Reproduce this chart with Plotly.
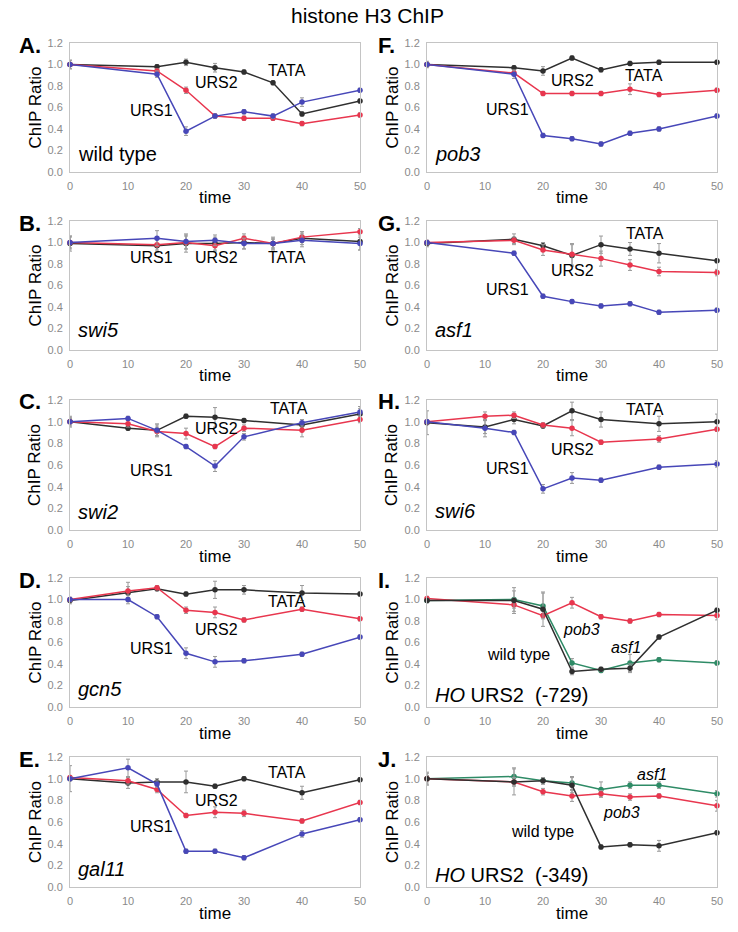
import plotly.graph_objects as go

W, H = 738, 932

# ---------------- data ----------------
T8a = [0, 15, 20, 25, 30, 35, 40, 50]
T8b = [0, 10, 15, 20, 25, 30, 40, 50]

# A wild type
A_urs1 = [1.00, 0.91, 0.38, 0.52, 0.56, 0.52, 0.65, 0.76]
A_urs2 = [1.00, 0.94, 0.76, 0.52, 0.50, 0.50, 0.45, 0.53]
A_tata = [1.00, 0.98, 1.02, 0.97, 0.93, 0.83, 0.54, 0.66]
A_e1 = [0.04, 0.03, 0.04, 0.02, 0.02, 0.02, 0.04, 0.02]
A_e2 = [0.02, 0.02, 0.03, 0.02, 0.02, 0.02, 0.02, 0.02]
A_e3 = [0.04, 0.02, 0.03, 0.04, 0.02, 0.02, 0.02, 0.02]
# B swi5
B_urs1 = [1.00, 1.04, 1.01, 1.02, 0.99, 0.99, 1.02, 0.99]
B_urs2 = [1.00, 0.98, 1.00, 0.97, 1.04, 0.99, 1.05, 1.10]
B_tata = [0.99, 0.97, 0.99, 0.99, 1.00, 0.99, 1.04, 1.01]
B_e1 = [0.06, 0.07, 0.07, 0.05, 0.05, 0.05, 0.06, 0.06]
B_e2 = [0.05, 0.05, 0.06, 0.05, 0.04, 0.04, 0.05, 0.03]
B_e3 = [0.07, 0.06, 0.08, 0.06, 0.06, 0.06, 0.06, 0.08]
# C swi2
C_urs1 = [1.00, 1.03, 0.92, 0.77, 0.59, 0.86, 0.99, 1.09]
C_urs2 = [1.00, 0.98, 0.91, 0.89, 0.77, 0.94, 0.92, 1.02]
C_tata = [1.00, 0.94, 0.92, 1.05, 1.04, 1.01, 0.97, 1.07]
C_e1 = [0.04, 0.02, 0.05, 0.02, 0.05, 0.03, 0.03, 0.03]
C_e2 = [0.03, 0.03, 0.04, 0.05, 0.02, 0.03, 0.06, 0.03]
C_e3 = [0.05, 0.02, 0.06, 0.02, 0.09, 0.02, 0.03, 0.07]
# D gcn5
D_urs1 = [1.00, 1.00, 0.84, 0.50, 0.42, 0.43, 0.49, 0.65]
D_urs2 = [1.00, 1.08, 1.11, 0.90, 0.88, 0.81, 0.91, 0.82]
D_tata = [0.99, 1.06, 1.10, 1.05, 1.09, 1.09, 1.06, 1.05]
D_e1 = [0.02, 0.02, 0.02, 0.05, 0.05, 0.02, 0.02, 0.02]
D_e2 = [0.02, 0.04, 0.02, 0.03, 0.05, 0.02, 0.02, 0.02]
D_e3 = [0.03, 0.10, 0.02, 0.02, 0.08, 0.04, 0.07, 0.02]
# E gal11
E_urs1 = [1.00, 1.10, 0.95, 0.33, 0.33, 0.27, 0.49, 0.62]
E_urs2 = [1.01, 0.98, 0.90, 0.66, 0.69, 0.68, 0.61, 0.78]
E_tata = [1.00, 0.96, 0.97, 0.97, 0.93, 1.00, 0.87, 0.99]
E_e1 = [0.02, 0.08, 0.03, 0.02, 0.02, 0.02, 0.03, 0.02]
E_e2 = [0.02, 0.03, 0.03, 0.02, 0.05, 0.03, 0.02, 0.02]
E_e3 = [0.12, 0.05, 0.03, 0.10, 0.02, 0.02, 0.06, 0.02]
# F pob3
F_urs1 = [1.00, 0.91, 0.34, 0.31, 0.26, 0.36, 0.40, 0.52]
F_urs2 = [1.00, 0.92, 0.73, 0.73, 0.73, 0.77, 0.72, 0.76]
F_tata = [1.00, 0.97, 0.94, 1.06, 0.95, 1.01, 1.02, 1.02]
F_e1 = [0.02, 0.04, 0.02, 0.02, 0.02, 0.02, 0.02, 0.02]
F_e2 = [0.02, 0.02, 0.02, 0.02, 0.02, 0.05, 0.02, 0.02]
F_e3 = [0.03, 0.02, 0.04, 0.02, 0.02, 0.02, 0.02, 0.02]
# G asf1
G_urs1 = [1.00, 0.90, 0.50, 0.45, 0.41, 0.43, 0.35, 0.37]
G_urs2 = [1.00, 1.02, 0.93, 0.89, 0.85, 0.79, 0.73, 0.72]
G_tata = [0.99, 1.03, 0.97, 0.88, 0.98, 0.94, 0.90, 0.83]
G_e1 = [0.02, 0.02, 0.02, 0.02, 0.02, 0.02, 0.02, 0.02]
G_e2 = [0.02, 0.03, 0.05, 0.10, 0.07, 0.05, 0.04, 0.03]
G_e3 = [0.03, 0.05, 0.03, 0.10, 0.08, 0.06, 0.09, 0.02]
# H swi6
H_urs1 = [1.00, 0.94, 0.90, 0.38, 0.48, 0.46, 0.58, 0.61]
H_urs2 = [1.00, 1.05, 1.06, 0.97, 0.94, 0.81, 0.84, 0.93]
H_tata = [0.99, 0.95, 1.02, 0.96, 1.10, 1.02, 0.98, 1.00]
H_e1 = [0.02, 0.08, 0.02, 0.04, 0.05, 0.02, 0.02, 0.03]
H_e2 = [0.02, 0.04, 0.03, 0.02, 0.07, 0.02, 0.03, 0.02]
H_e3 = [0.11, 0.06, 0.04, 0.02, 0.08, 0.07, 0.07, 0.07]
# I HO URS2 (-729)
I_wt = [0.99, 0.99, 0.91, 0.33, 0.35, 0.36, 0.65, 0.90]
I_pob3 = [1.01, 0.95, 0.85, 0.97, 0.84, 0.80, 0.86, 0.85]
I_asf1 = [0.99, 1.00, 0.94, 0.41, 0.34, 0.41, 0.44, 0.41]
I_e1 = [0.02, 0.12, 0.16, 0.03, 0.02, 0.04, 0.02, 0.02]
I_e2 = [0.02, 0.06, 0.02, 0.05, 0.02, 0.02, 0.02, 0.04]
I_e3 = [0.02, 0.08, 0.12, 0.04, 0.02, 0.08, 0.02, 0.02]
# J HO URS2 (-349)
J_wt = [1.00, 0.97, 0.98, 0.94, 0.37, 0.39, 0.38, 0.50]
J_pob3 = [1.00, 0.97, 0.88, 0.84, 0.86, 0.83, 0.84, 0.75]
J_asf1 = [1.00, 1.02, 0.98, 0.96, 0.90, 0.94, 0.94, 0.86]
J_e1 = [0.05, 0.12, 0.03, 0.07, 0.02, 0.02, 0.05, 0.02]
J_e2 = [0.03, 0.04, 0.03, 0.05, 0.03, 0.03, 0.02, 0.05]
J_e3 = [0.06, 0.08, 0.03, 0.06, 0.07, 0.03, 0.03, 0.03]

Y_TICKS = [0.0, 0.2, 0.4, 0.6, 0.8, 1.0, 1.2]
X_TICKS = [0, 10, 20, 30, 40, 50]

BLUE = "#4747B8"
RED = "#E8364E"
BLACK = "#2f2f2f"
GREEN = "#2E8B66"

# panels: letter, col, row, times, series[(values, err, color)], labels, genotype label
panels = [
    ("A.", 0, 0, T8a, [(A_tata, A_e3, BLACK), (A_urs2, A_e2, RED), (A_urs1, A_e1, BLUE)],
     [("URS1", 14.1, 0.57), ("URS2", 25.3, 0.83), ("TATA", 37.4, 0.94)], ("wild type", False, 0.17)),
    ("B.", 0, 1, T8a, [(B_tata, B_e3, BLACK), (B_urs2, B_e2, RED), (B_urs1, B_e1, BLUE)],
     [("URS1", 14.1, 0.86), ("URS2", 25.3, 0.86), ("TATA", 37.4, 0.86)], ("swi5", True, 0.19)),
    ("C.", 0, 2, T8b, [(C_tata, C_e3, BLACK), (C_urs2, C_e2, RED), (C_urs1, C_e1, BLUE)],
     [("URS1", 14.1, 0.55), ("URS2", 25.3, 0.94), ("TATA", 37.7, 1.12)], ("swi2", True, 0.17)),
    ("D.", 0, 3, T8b, [(D_tata, D_e3, BLACK), (D_urs2, D_e2, RED), (D_urs1, D_e1, BLUE)],
     [("URS1", 14.1, 0.545), ("URS2", 25.3, 0.72), ("TATA", 37.4, 0.98)], ("gcn5", True, 0.17)),
    ("E.", 0, 4, T8b, [(E_tata, E_e3, BLACK), (E_urs2, E_e2, RED), (E_urs1, E_e1, BLUE)],
     [("URS1", 14.1, 0.56), ("URS2", 25.3, 0.80), ("TATA", 37.4, 1.06)], ("gal11", True, 0.17)),
    ("F.", 1, 0, T8a, [(F_tata, F_e3, BLACK), (F_urs2, F_e2, RED), (F_urs1, F_e1, BLUE)],
     [("URS1", 13.8, 0.58), ("URS2", 25.0, 0.85), ("TATA", 37.4, 0.90)], ("pob3", True, 0.17)),
    ("G.", 1, 1, T8a, [(G_tata, G_e3, BLACK), (G_urs2, G_e2, RED), (G_urs1, G_e1, BLUE)],
     [("URS1", 13.8, 0.56), ("URS2", 25.0, 0.74), ("TATA", 37.6, 1.08)], ("asf1", True, 0.19)),
    ("H.", 1, 2, T8b, [(H_tata, H_e3, BLACK), (H_urs2, H_e2, RED), (H_urs1, H_e1, BLUE)],
     [("URS1", 13.8, 0.57), ("URS2", 25.0, 0.74), ("TATA", 37.6, 1.11)], ("swi6", True, 0.18)),
    ("I.", 1, 3, T8a, [(I_asf1, I_e3, GREEN), (I_pob3, I_e2, RED), (I_wt, I_e1, BLACK)],
     [("<i>pob3</i>", 26.6, 0.72), ("<i>asf1</i>", 34.3, 0.55), ("wild type", 15.7, 0.49)],
     ("<i>HO</i> URS2  (-729)", None, 0.11)),
    ("J.", 1, 4, T8a, [(J_asf1, J_e3, GREEN), (J_pob3, J_e2, RED), (J_wt, J_e1, BLACK)],
     [("<i>asf1</i>", 38.8, 1.04), ("<i>pob3</i>", 33.5, 0.69), ("wild type", 19.9, 0.51)],
     ("<i>HO</i> URS2  (-349)", None, 0.11)),
]

COL_X = [(70, 360), (427, 717)]
ROW_Y = [(43, 172), (221, 350), (400, 530), (578, 707), (757, 887)]

FONT = "Liberation Sans, Arial, sans-serif"

fig = go.Figure()
layout = dict(
    width=W, height=H, margin=dict(l=0, r=0, t=0, b=0, pad=0, autoexpand=False),
    paper_bgcolor="white", plot_bgcolor="white", showlegend=False,
    font=dict(family=FONT, color="black"),
)
annotations = []

def px(x):
    return x / W

def py(y):
    return 1 - y / H

for i, (letter, col, row, times, series, labels, geno) in enumerate(panels):
    k = "" if i == 0 else str(i + 1)
    xa, ya = "x" + k, "y" + k
    x0, x1 = COL_X[col]
    y0, y1 = ROW_Y[row]
    layout["xaxis" + k] = dict(
        domain=[px(x0), px(x1)], range=[0, 50], anchor=ya, automargin=False,
        tickvals=X_TICKS, showgrid=False, zeroline=False,
        showline=True, mirror=True, linecolor="#c4c4c4", linewidth=1,
        ticks="", tickfont=dict(size=11, color="#8a8a8a"), ticklabelstandoff=4,
    )
    layout["yaxis" + k] = dict(
        domain=[py(y1), py(y0)], range=[0, 1.2], anchor=xa, automargin=False,
        tickvals=Y_TICKS, tickformat=".1f", showgrid=False, zeroline=False,
        showline=True, mirror=True, linecolor="#c4c4c4", linewidth=1,
        ticks="", tickfont=dict(size=11, color="#8a8a8a"), ticklabelstandoff=4,
    )
    for vals, err, color in series:
        fig.add_trace(go.Scatter(
            x=times, y=vals, mode="lines+markers", xaxis=xa, yaxis=ya,
            line=dict(color=color, width=1.5),
            marker=dict(color=color, size=5.5, symbol="circle"),
            error_y=dict(type="data", array=err, visible=True, color="#9a9a9a",
                         thickness=1, width=2),
            cliponaxis=False,
        ))
    for text, lx, ly in labels:
        annotations.append(dict(text=text, x=lx, y=ly, xref=xa, yref=ya,
                                showarrow=False, font=dict(size=16, color="black"),
                                xanchor="center", yanchor="middle"))
    gtext, italic, gy = geno
    if italic is None:
        annotations.append(dict(text=gtext, x=1.0, y=gy, xref=xa, yref=ya,
                                showarrow=False, font=dict(size=20, color="black"),
                                xanchor="left", yanchor="middle"))
    else:
        annotations.append(dict(text=("<i>%s</i>" % gtext) if italic else gtext,
                                x=1.0, y=gy, xref=xa, yref=ya,
                                showarrow=False, font=dict(size=20, color="black"),
                                xanchor="left", yanchor="middle"))
    # panel letter
    lx_px = 17 if col == 0 else 376
    annotations.append(dict(text="<b>%s</b>" % letter, x=px(lx_px), y=py(y0 + 2),
                            xref="paper", yref="paper", showarrow=False,
                            font=dict(size=22, color="black"),
                            xanchor="left", yanchor="middle"))
    # y title
    annotations.append(dict(text="ChIP Ratio", x=px(x0 - 35), y=py((y0 + y1) / 2),
                            xref="paper", yref="paper", showarrow=False, textangle=-90,
                            font=dict(size=17, color="black"),
                            xanchor="center", yanchor="middle"))
    # x title
    annotations.append(dict(text="time", x=px((x0 + x1) / 2), y=py(y1 + 26),
                            xref="paper", yref="paper", showarrow=False,
                            font=dict(size=17, color="black"),
                            xanchor="center", yanchor="middle"))

annotations.append(dict(text="histone H3 ChIP", x=px(367), y=py(15), xref="paper",
                        yref="paper", showarrow=False,
                        font=dict(size=21, color="black"),
                        xanchor="center", yanchor="middle"))

layout["annotations"] = annotations
fig.update_layout(**layout)
fig.write_html("out.html", config={"displayModeBar": False},
               post_script="document.body.style.margin='0';document.body.style.overflow='hidden';")
